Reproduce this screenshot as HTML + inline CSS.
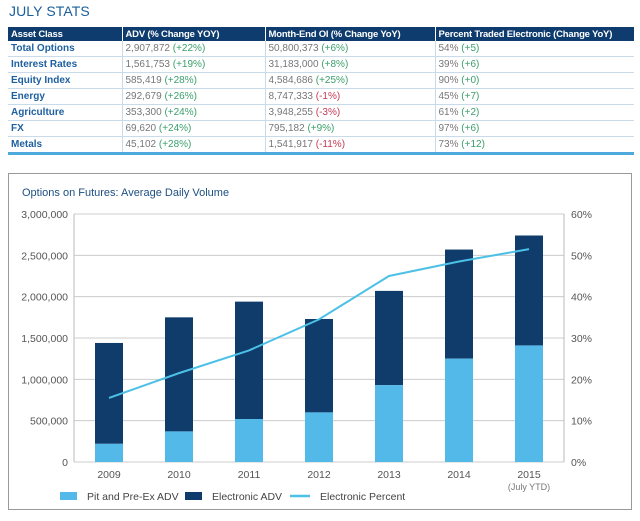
<!DOCTYPE html>
<html><head><meta charset="utf-8"><style>
body{margin:0;width:640px;height:521px;background:#fff;font-family:"Liberation Sans",sans-serif;position:relative;overflow:hidden}
.title{position:absolute;left:9px;top:3px;font-size:14px;color:#1a5e9c;letter-spacing:0.1px}
table{position:absolute;left:8px;top:27px;width:626px;border-collapse:collapse;font-size:10px;table-layout:fixed}
th{background:#0f3c6e;color:#fff;text-align:left;font-weight:bold;height:14px;padding:0 3px;border-left:1px solid #fff;white-space:nowrap;overflow:hidden;font-size:9.5px;letter-spacing:-0.2px}
th:first-child{border-left:none}
td{height:15px;padding:0 3px;color:#777;border-bottom:1px solid #c9dbe9;border-left:1px solid #c9dbe9;white-space:nowrap}
td:first-child{color:#1d5f9f;font-weight:bold;border-left:none}
tr:last-child td{border-bottom:3px solid #4ea9dc}
.g{color:#3b9e6a}.r{color:#c33a55}
.box{position:absolute;left:8px;top:173px;width:624px;height:337px;border:1px solid #999;box-sizing:border-box}
</style></head><body>
<div class="title">JULY STATS</div>
<table>
<colgroup><col style="width:114px"><col style="width:143px"><col style="width:170px"><col></colgroup>
<tr><th>Asset Class</th><th>ADV (% Change YOY)</th><th>Month-End OI (% Change YoY)</th><th>Percent Traded Electronic (Change YoY)</th></tr>
<tr><td>Total Options</td><td>2,907,872 <span class="g">(+22%)</span></td><td>50,800,373 <span class="g">(+6%)</span></td><td>54% <span class="g">(+5)</span></td></tr>
<tr><td>Interest Rates</td><td>1,561,753 <span class="g">(+19%)</span></td><td>31,183,000 <span class="g">(+8%)</span></td><td>39% <span class="g">(+6)</span></td></tr>
<tr><td>Equity Index</td><td>585,419 <span class="g">(+28%)</span></td><td>4,584,686 <span class="g">(+25%)</span></td><td>90% <span class="g">(+0)</span></td></tr>
<tr><td>Energy</td><td>292,679 <span class="g">(+26%)</span></td><td>8,747,333 <span class="r">(-1%)</span></td><td>45% <span class="g">(+7)</span></td></tr>
<tr><td>Agriculture</td><td>353,300 <span class="g">(+24%)</span></td><td>3,948,255 <span class="r">(-3%)</span></td><td>61% <span class="g">(+2)</span></td></tr>
<tr><td>FX</td><td>69,620 <span class="g">(+24%)</span></td><td>795,182 <span class="g">(+9%)</span></td><td>97% <span class="g">(+6)</span></td></tr>
<tr><td>Metals</td><td>45,102 <span class="g">(+28%)</span></td><td>1,541,917 <span class="r">(-11%)</span></td><td>73% <span class="g">(+12)</span></td></tr>
</table>
<div class="box"></div>
<svg id="chart" width="640" height="521" style="position:absolute;left:0;top:0"></svg>
<script>
const years=["2009","2010","2011","2012","2013","2014","2015"];
const pitADV=[220000,370000,520000,600000,930000,1250000,1410000];
const totalADV=[1440000,1750000,1940000,1730000,2070000,2570000,2740000];
const elecPct=[15.5,21.5,27,34.5,45,48.5,51.5];
const leftTicks=[0,500000,1000000,1500000,2000000,2500000,3000000];
const rightTicks=[0,10,20,30,40,50,60];
const NS="http://www.w3.org/2000/svg";
const svg=document.getElementById('chart');
const X0=74,X1=564,Y0=462,Y1=214;
const yL=v=>Y0-(v/3000000)*(Y0-Y1);
const yR=v=>Y0-(v/60)*(Y0-Y1);
const bw=(X1-X0)/years.length;
const xc=i=>X0+bw*(i+0.5);
function mk(t,a,txt){const e=document.createElementNS(NS,t);for(const k in a)e.setAttribute(k,a[k]);if(txt!==undefined)e.textContent=txt;svg.appendChild(e);return e;}
let t=mk('text',{x:22,y:196,'font-size':11,fill:'#1d4f82'},'Options on Futures: Average Daily Volume');


leftTicks.forEach((v,i)=>{
 const g=mk('line',{x1:X0,x2:X1,y1:yL(v),y2:yL(v),stroke:'#ccc','stroke-width':1});
 
 
 const l=mk('text',{x:68,y:yL(v)+4,'font-size':10.5,fill:'#555','text-anchor':'end'},v.toLocaleString('en-US'));
 
 
 const r=mk('text',{x:571,y:yR(rightTicks[i])+4,'font-size':10.5,fill:'#555'},rightTicks[i]+'%');
 
 
});
mk('line',{x1:X0,x2:X0,y1:Y1,y2:Y0,stroke:'#bbb'});
mk('line',{x1:X1,x2:X1,y1:Y1,y2:Y0,stroke:'#bbb'});
years.forEach((y,i)=>{
 const x=xc(i)-14;
 const e=mk('rect',{x:x,y:yL(totalADV[i]),width:28,height:yL(pitADV[i])-yL(totalADV[i]),fill:'#0f3c6b'});
 
 
 const p=mk('rect',{x:x,y:yL(pitADV[i]),width:28,height:Y0-yL(pitADV[i]),fill:'#53b9e8'});
 
 
 const l=mk('text',{x:xc(i),y:478,'font-size':10.5,fill:'#555','text-anchor':'middle'},y);
 
 
});
const pl=mk('polyline',{points:elecPct.map((v,i)=>xc(i)+','+yR(v)).join(' '),fill:'none',stroke:'#4cc0e6','stroke-width':2});


const ytd=mk('text',{x:xc(6),y:490,'font-size':9,fill:'#777','text-anchor':'middle'},'(July YTD)');


const leg=[['Pit and Pre-Ex ADV','#53b9e8','rect',60],['Electronic ADV','#0f3c6b','rect',185],['Electronic Percent','#4cc0e6','line',290]];
leg.forEach(([n,c,k,x])=>{
 if(k==='rect')mk('rect',{x:x,y:492,width:17,height:8,fill:c});
 else mk('line',{x1:x,x2:x+20,y1:496,y2:496,stroke:c,'stroke-width':2.5});
 const l=mk('text',{x:x+(k==='rect'?27:30),y:500,'font-size':10.5,fill:'#444'},n);
 
 
});
</script>
</body></html>
